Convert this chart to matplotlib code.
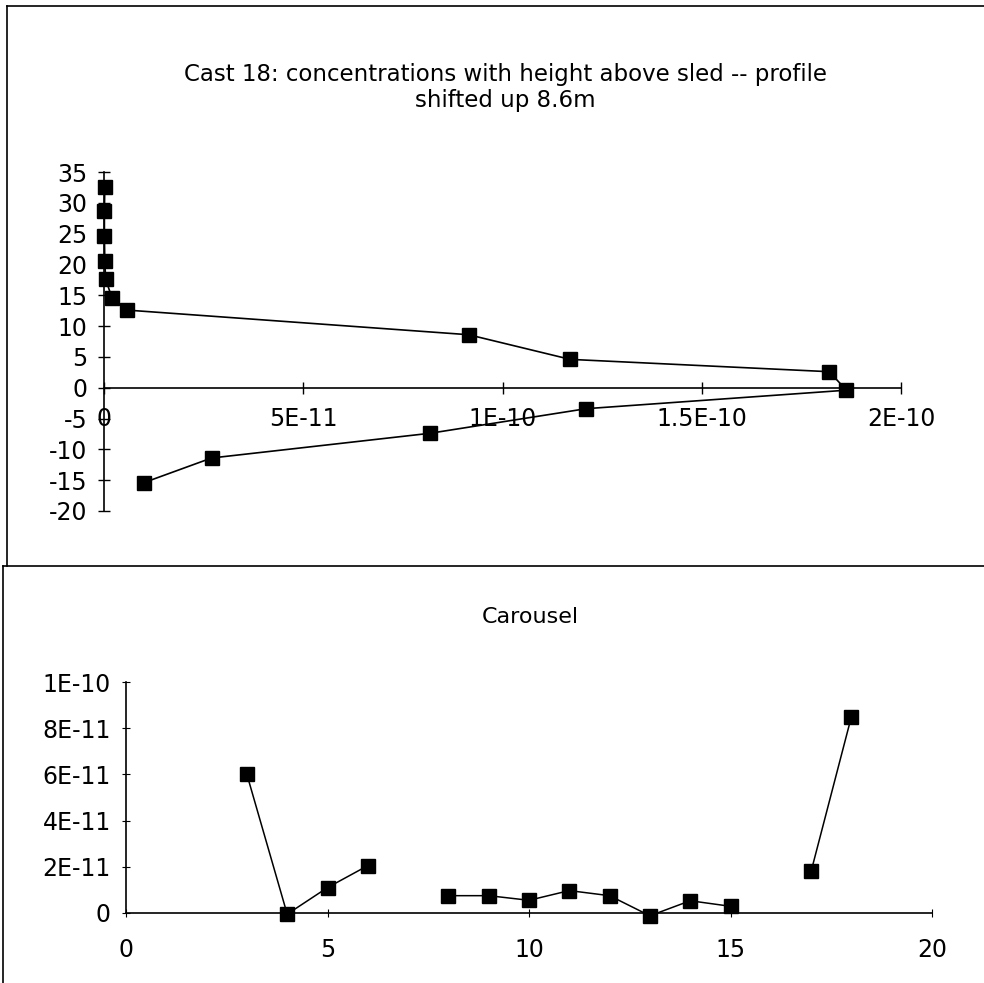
import matplotlib
matplotlib.use('Agg')
import matplotlib.pyplot as plt
import numpy as np
from matplotlib.lines import Line2D

plt.rcParams['font.family'] = ['DejaVu Sans']
plt.rcParams['axes.unicode_minus'] = False

# Cast 18 profile: concentration vs height above sled (shifted up 8.6 m)
conc = [2e-13, 1e-13, 1e-13, 2e-13, 4e-13, 2.0e-12, 5.7e-12, 9.15e-11, 1.17e-10,
        1.82e-10, 1.863e-10, 1.21e-10, 8.17e-11, 2.7e-11, 1.0e-11]
height = [32.6, 28.6, 24.6, 20.6, 17.6, 14.6, 12.6, 8.6, 4.6,
          2.6, -0.4, -3.4, -7.4, -11.4, -15.4]
top_xticks = [0, 5e-11, 1e-10, 1.5e-10, 2e-10]
top_xlabels = ['0', '5E-11', '1E-10', '1.5E-10', '2E-10']
top_yticks = [-20, -15, -10, -5, 0, 5, 10, 15, 20, 25, 30, 35]

# Carousel bottles (gaps at 7 and 16)
bottle = [3, 4, 5, 6, 7, 8, 9, 10, 11, 12, 13, 14, 15, 16, 17, 18]
carousel = [6.0e-11, -5e-13, 1.1e-11, 2.05e-11, np.nan, 7.5e-12, 7.5e-12, 5.5e-12,
            9.7e-12, 7.5e-12, -1.2e-12, 5.3e-12, 2.9e-12, np.nan, 1.8e-11, 8.5e-11]
bot_xticks = [0, 5, 10, 15, 20]
bot_yticks = [0, 2e-11, 4e-11, 6e-11, 8e-11, 1e-10]
bot_ylabels = ['0', '2E-11', '4E-11', '6E-11', '8E-11', '1E-10']

W, H = 984, 983
fig = plt.figure(figsize=(W / 100, H / 100), dpi=100)


def fx(px):
    return px / W


def fy(py):
    return 1 - py / H


# chart frames
for (x0, y0, x1, y1) in [(7, 6, 984, 6), (7, 6, 7, 566), (3, 566, 984, 566), (3, 566, 3, 983)]:
    fig.add_artist(Line2D([fx(x0), fx(x1)], [fy(y0), fy(y1)], color='black', lw=1.2))

# ---- top chart
ax1 = fig.add_axes([fx(104), fy(511), fx(901) - fx(104), fy(172) - fy(511)])
ax1.plot(conc, height, color='black', lw=1.2, marker='s', ms=10,
         mfc='black', mec='black', clip_on=False, zorder=5)
ax1.set_xlim(0, 2e-10)
ax1.set_ylim(-20, 35)
ax1.spines['left'].set_position(('data', 0))
ax1.spines['bottom'].set_position(('data', 0))
ax1.spines['top'].set_visible(False)
ax1.spines['right'].set_visible(False)
ax1.set_xticks(top_xticks)
ax1.set_xticklabels(top_xlabels)
ax1.set_yticks(top_yticks)
ax1.tick_params(direction='inout', length=8, width=1, labelsize=17)
ax1.tick_params(axis='x', pad=10)
ax1.tick_params(axis='y', pad=8)
fig.text(fx(505), fy(75), 'Cast 18: concentrations with height above sled -- profile',
         ha='center', va='center', fontsize=16.5)
fig.text(fx(505), fy(100), 'shifted up 8.6m', ha='center', va='center', fontsize=16.5)

# ---- bottom chart
ax2 = fig.add_axes([fx(126), fy(913), fx(932) - fx(126), fy(682) - fy(913)])
ax2.plot(bottle, carousel, color='black', lw=1.1, marker='s', ms=10,
         mfc='black', mec='black', clip_on=False, zorder=5)
ax2.set_xlim(0, 20)
ax2.set_ylim(0, 1e-10)
ax2.spines['top'].set_visible(False)
ax2.spines['right'].set_visible(False)
ax2.set_xticks(bot_xticks)
ax2.set_yticks(bot_yticks)
ax2.set_yticklabels(bot_ylabels)
ax2.tick_params(axis='y', direction='inout', length=6, labelsize=17, pad=8)
ax2.tick_params(axis='x', direction='inout', length=6, labelsize=17, pad=15)
for a in (ax1, ax2):
    a.patch.set_alpha(0)
    for s in a.spines.values():
        s.set_linewidth(1.2)
fig.text(fx(530), fy(617), 'Carousel', ha='center', va='center', fontsize=16)

fig.savefig('out.png', dpi=100)
